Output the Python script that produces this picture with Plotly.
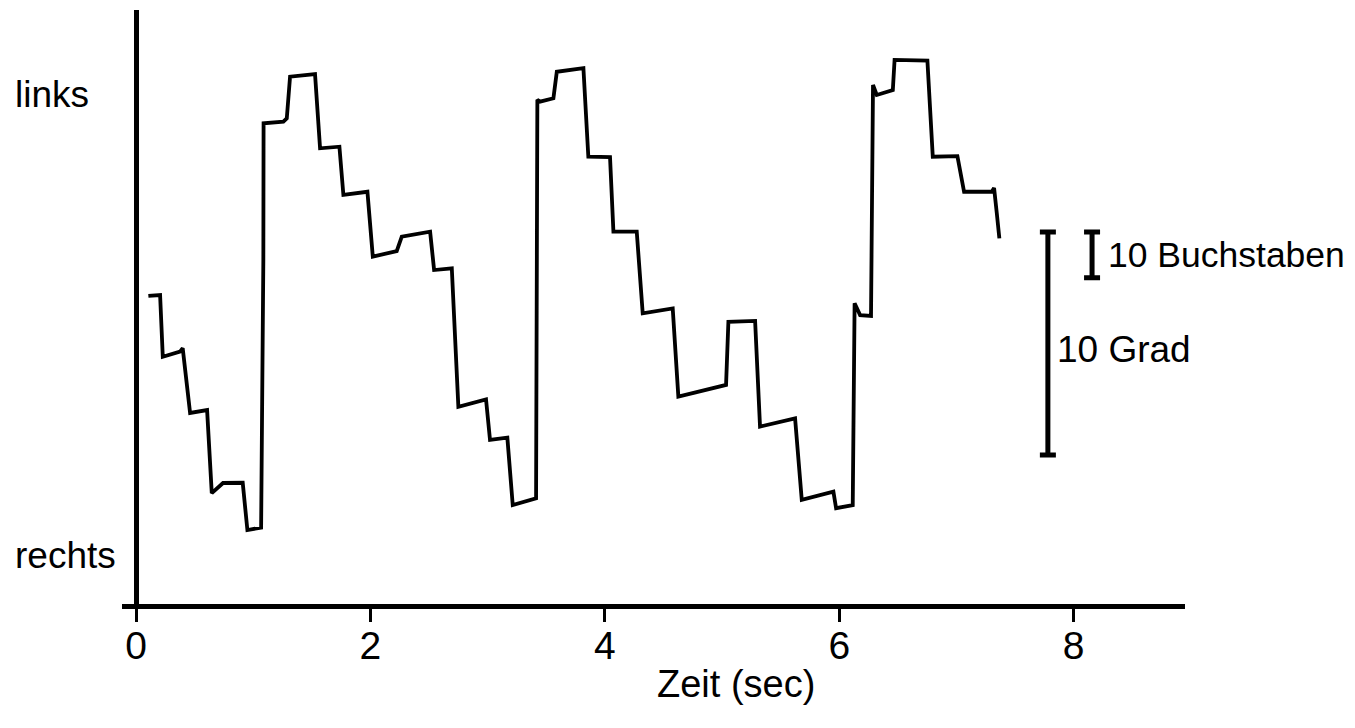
import plotly.graph_objects as go

# Eye position trace: time (s) and horizontal position (degrees, arbitrary zero)
time_s = [0.105, 0.205, 0.228, 0.375, 0.398, 0.461, 0.606, 0.646, 0.742, 0.910,
          0.950, 1.067, 1.086, 1.088, 1.257, 1.286, 1.314, 1.527, 1.570, 1.735,
          1.769, 1.974, 2.020, 2.224, 2.267, 2.509, 2.543, 2.694, 2.750, 2.986,
          3.020, 3.168, 3.214, 3.413, 3.424, 3.447, 3.561, 3.590, 3.817, 3.859,
          4.044, 4.073, 4.272, 4.323, 4.579, 4.627, 5.034, 5.054, 5.282, 5.324,
          5.623, 5.680, 5.950, 5.973, 6.115, 6.131, 6.178, 6.271, 6.288, 6.320,
          6.457, 6.472, 6.752, 6.798, 7.008, 7.065, 7.301, 7.321, 7.344, 7.366]
position_deg = [13.86, 13.90, 11.13, 11.36, 11.51, 8.61, 8.74, 5.02, 5.47, 5.48,
                3.36, 3.47, 15.47, 21.60, 21.67, 21.82, 23.69, 23.81, 20.48, 20.55,
                18.39, 18.53, 15.62, 15.87, 16.52, 16.74, 15.02, 15.10, 8.89, 9.22,
                7.40, 7.50, 4.48, 4.78, 22.65, 22.57, 22.72, 23.91, 24.07, 20.10,
                20.08, 16.74, 16.74, 13.08, 13.30, 9.34, 9.87, 12.70, 12.74, 8.00,
                8.37, 4.71, 5.08, 4.34, 4.48, 13.53, 13.00, 12.96, 23.32, 22.87,
                23.09, 24.44, 24.41, 20.10, 20.13, 18.53, 18.53, 18.70, 17.57, 16.44]

# Axis
x_ticks = [0, 2, 4, 6, 8]
x_range = [-0.12, 8.95]
y_range = [0.045, 26.68]
side_labels = ["links", "rechts"]
side_label_y = [22.87, 2.20]

# Scale bars: (label, x position, bottom, length in degrees)
bar_labels = ["10 Grad", "10 Buchstaben"]
bar_x = [7.78, 8.157]
bar_bottom = [6.73, 14.67]
bar_length = [10.0, 2.06]
bar_label_x = [7.84, 8.275]
bar_label_y = [11.45, 15.70]
bar_label_size = [37, 35.5]

FONT = "Liberation Sans, Arial, sans-serif"
TXT = 37

fig = go.Figure()
fig.add_trace(go.Scatter(x=time_s, y=position_deg, mode="lines",
                         line=dict(color="black", width=3.8), hoverinfo="skip",
                         showlegend=False))

for bx, bb, bl in zip(bar_x, bar_bottom, bar_length):
    fig.add_trace(go.Scatter(
        x=[bx], y=[bb + bl / 2], mode="markers",
        marker=dict(size=1, color="rgba(0,0,0,0)"),
        error_y=dict(type="data", array=[bl / 2], symmetric=True,
                     color="black", thickness=5, width=8),
        showlegend=False, hoverinfo="skip"))

annotations = []
for lab, yy in zip(side_labels, side_label_y):
    annotations.append(dict(text=lab, xref="paper", x=-0.103, xanchor="left",
                            yref="y", y=yy, yanchor="middle", showarrow=False,
                            font=dict(family=FONT, size=TXT, color="black")))
for lab, lx, ly, fs in zip(bar_labels, bar_label_x, bar_label_y, bar_label_size):
    annotations.append(dict(text=lab, xref="x", x=lx, xanchor="left",
                            yref="y", y=ly, yanchor="middle", showarrow=False,
                            font=dict(family=FONT, size=fs, color="black")))
annotations.append(dict(text="Zeit (sec)", xref="x", x=5.12, xanchor="center",
                        yref="paper", y=-0.135, yanchor="middle", showarrow=False,
                        font=dict(family=FONT, size=38, color="black")))

fig.update_layout(
    width=1347, height=720,
    margin=dict(l=114, r=170, t=2, b=124),
    paper_bgcolor="white", plot_bgcolor="white",
    font=dict(family=FONT, color="black"),
    annotations=annotations,
    xaxis=dict(range=x_range, tickvals=x_ticks, ticktext=[str(t) for t in x_ticks],
               showgrid=False, zeroline=True, zerolinecolor="black", zerolinewidth=5,
               showline=True, linecolor="black", linewidth=5,
               ticks="outside", ticklen=13, tickwidth=3, tickcolor="black",
               ticklabelstandoff=-10,
               tickfont=dict(family=FONT, size=39, color="black")),
    yaxis=dict(range=y_range, showgrid=False, zeroline=False, showline=False,
               showticklabels=False, ticks=""),
)

fig.write_html("out.html")
